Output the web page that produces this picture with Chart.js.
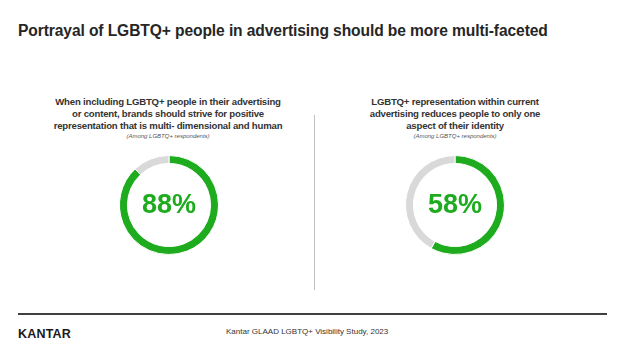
<!DOCTYPE html>
<html>
<head>
<meta charset="utf-8">
<script src="https://cdn.jsdelivr.net/npm/chart.js@4.4.0/dist/chart.umd.min.js"></script>
<style>
  html, body { margin: 0; padding: 0; background: #fff; }
  body { width: 624px; height: 351px; position: relative; overflow: hidden; font-family: "Liberation Sans", Arial, sans-serif; color: #262626; }
  #title { position: absolute; left: 18px; top: 22px; font-size: 15.6px; font-weight: bold; white-space: nowrap; letter-spacing: -0.1px; }
  .q { position: absolute; top: 96px; width: 260px; text-align: center; font-size: 9.6px; font-weight: bold; line-height: 12px; letter-spacing: -0.2px; color: #333; }
  .q i { display: block; font-weight: normal; font-size: 6px; line-height: 7px; margin-top: 1px; color: #555; letter-spacing: 0; }
  .donut { position: absolute; width: 100px; height: 100px; }
  #divider { position: absolute; left: 314px; top: 115px; width: 1px; height: 175px; background: #bfbfbf; }
  #rule { position: absolute; left: 18px; top: 313px; width: 589px; height: 2px; background: #404040; }
  #logo { position: absolute; left: 18px; top: 327px; font-size: 12.5px; font-weight: bold; color: #1a1a1a; letter-spacing: 0.2px; }
  #source { position: absolute; left: 226px; top: 327px; font-size: 8px; color: #333; white-space: nowrap; }
</style>
</head>
<body>
<div id="title">Portrayal of LGBTQ+ people in advertising should be more multi-faceted</div>
<div class="q" style="left:38px">When including LGBTQ+ people in their advertising<br>or content, brands should strive for positive<br>representation that is multi- dimensional and human<i>(Among LGBTQ+ respondents)</i></div>
<div class="q" style="left:325px">LGBTQ+ representation within current<br>advertising reduces people to only one<br>aspect of their identity<i>(Among LGBTQ+ respondents)</i></div>
<div class="donut" style="left:119px; top:155px"><canvas id="c1"></canvas></div>
<div class="donut" style="left:405px; top:155px"><canvas id="c2"></canvas></div>
<div id="divider"></div>
<div id="rule"></div>
<div id="logo">KANTAR</div>
<div id="source">Kantar GLAAD LGBTQ+ Visibility Study, 2023</div>
<script>
const segmentLabels = ["Agree", "Other"];
const multiDimensional = [88, 12];
const reducesIdentity = [58, 42];

const green = "#1eac1e";
const grey = "#d9d9d9";

const centerText = {
  id: "centerText",
  afterDraw(chart) {
    const { ctx, chartArea } = chart;
    const x = (chartArea.left + chartArea.right) / 2;
    const y = (chartArea.top + chartArea.bottom) / 2;
    ctx.save();
    ctx.font = "bold 27px 'Liberation Sans', Arial, sans-serif";
    ctx.fillStyle = green;
    ctx.textAlign = "center";
    ctx.textBaseline = "middle";
    ctx.fillText(chart.data.datasets[0].data[0] + "%", x, y + 1);
    ctx.restore();
  }
};

function drawDonut(canvasId, values) {
  new Chart(document.getElementById(canvasId), {
    type: "doughnut",
    data: {
      labels: segmentLabels,
      datasets: [{
        data: values,
        backgroundColor: [green, grey],
        borderColor: "#fff",
        borderWidth: 1
      }]
    },
    options: {
      responsive: true,
      maintainAspectRatio: false,
      animation: false,
      cutout: "84%",
      layout: { padding: 0 },
      plugins: {
        legend: { display: false },
        tooltip: { enabled: false }
      }
    },
    plugins: [centerText]
  });
}

drawDonut("c1", multiDimensional);
drawDonut("c2", reducesIdentity);
</script>
</body>
</html>
